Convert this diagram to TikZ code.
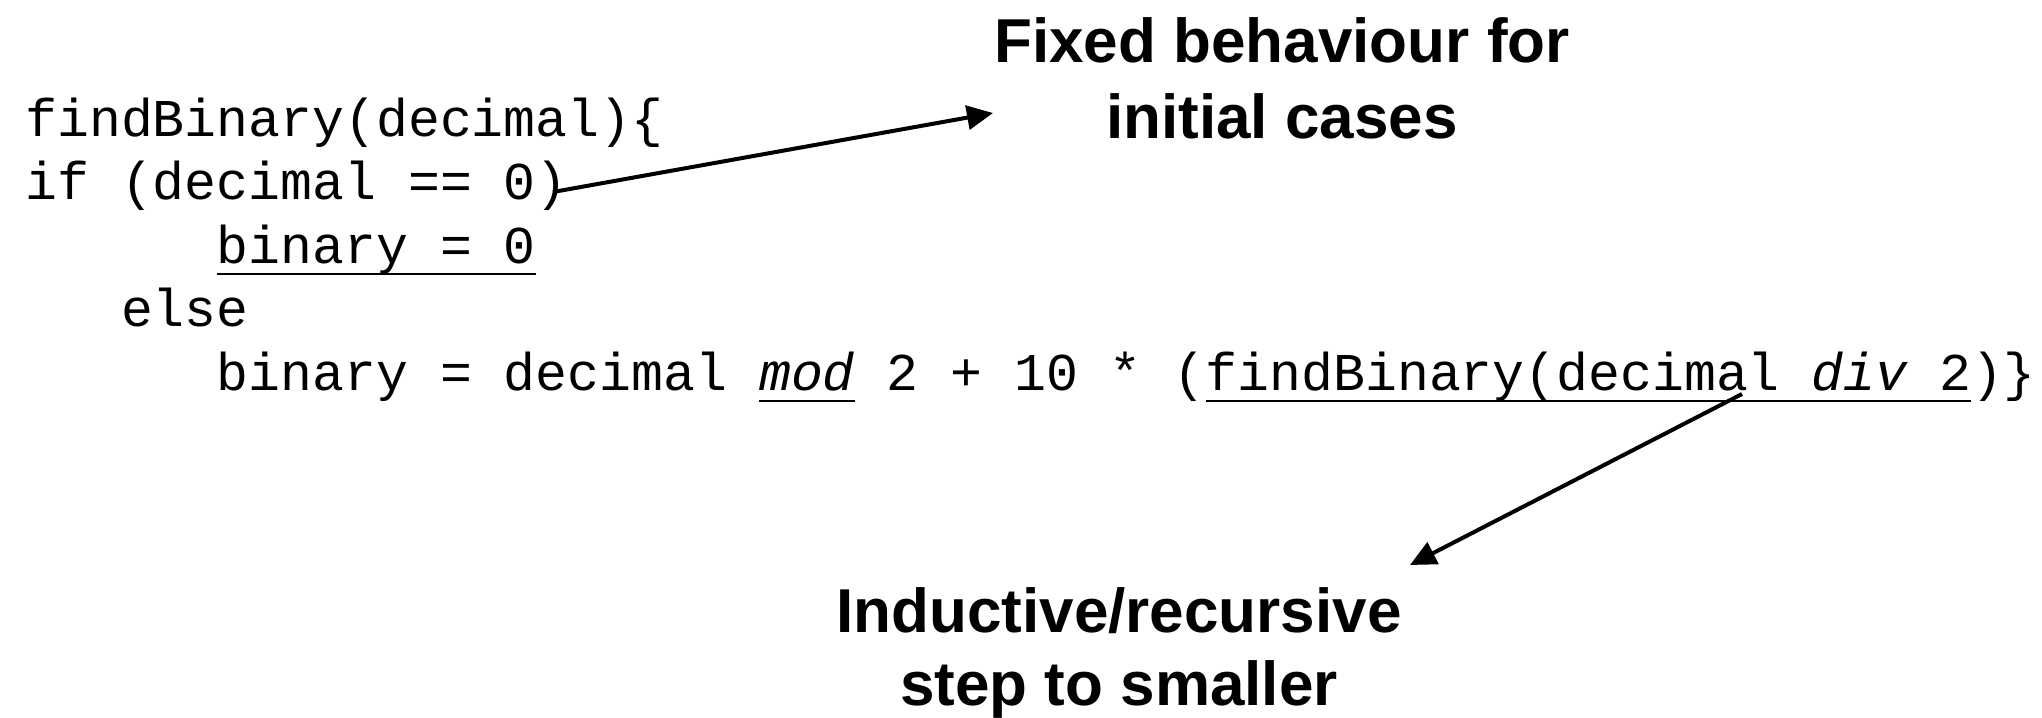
\documentclass[tikz,border=0pt]{standalone}
\usepackage{fontspec}
\usetikzlibrary{arrows.meta}
\newfontfamily\codefont{Liberation Mono}
\newfontfamily\notefont{Liberation Sans}
% underline at a fixed depth below the baseline
\newcommand\undr[1]{\setbox0=\hbox{#1}\rlap{\rule[-6.2pt]{\wd0}{1.4pt}}\box0\relax}

\begin{document}
\begin{tikzpicture}[x=0.5pt,y=-0.5pt,
  codeline/.style={anchor=base west,inner sep=0pt,
    font=\codefont\fontsize{26.58pt}{32pt}\selectfont},
  note/.style={anchor=base,inner sep=0pt,
    font=\notefont\bfseries\fontsize{31pt}{38pt}\selectfont},
  pointer/.style={line width=2pt,-{Triangle[length=13pt,width=12pt]}}]

\useasboundingbox[fill=white] (0,0) rectangle (2042,718);

% pseudo-code, one node per line (column pitch 31.9)
\node[codeline] (l1) at (25,136)    {findBinary(decimal)\{};
\node[codeline] (l2) at (25,199.5)  {if (decimal == 0)};
\node[codeline] (l3) at (216.4,263) {\undr{binary = 0}};
\node[codeline] (l4) at (120.7,326.5) {else};
\node[codeline] (l5) at (216.4,390)
  {binary = decimal \undr{\itshape mod} 2 + 10 * (\undr{findBinary(decimal {\itshape div} 2})\}};

% annotations
\node[note] (base1) at (1282,62)  {Fixed behaviour for};
\node[note] (base2) at (1282,138) {initial cases};
\node[note] (step1) at (1119,632) {Inductive/recursive};
\node[note] (step2) at (1119,705) {step to smaller};

% arrow ends
\coordinate (ifend)   at (553,192);
\coordinate (basetip) at (993,113);
\coordinate (recend)  at (1742,394);
\coordinate (steptip) at (1410,565);

\draw[pointer] (ifend) -- (basetip);
\draw[pointer] (recend) -- (steptip);
\end{tikzpicture}
\end{document}
